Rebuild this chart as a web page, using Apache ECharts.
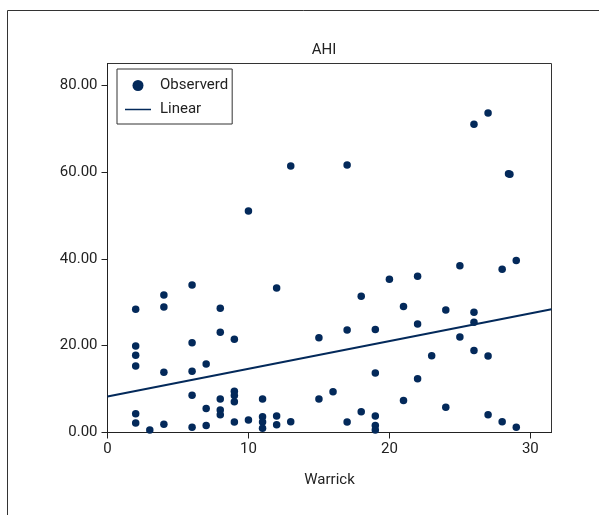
<!DOCTYPE html>
<html>
<head>
<meta charset="utf-8">
<script src="https://cdn.jsdelivr.net/npm/echarts@6/dist/echarts.min.js"></script>
<style>
html,body{margin:0;padding:0;background:#fff;}
#c{width:599px;height:515px;}
</style>
</head>
<body>
<div id="c"></div>
<script>
const titleText = 'AHI';
const xAxisName = 'Warrick';
const xTicks = [0, 10, 20, 30];
const yTicks = [0, 20, 40, 60, 80];
const observedX = [
  2, 2, 2, 2, 2, 2, 3,
  4, 4, 4, 4,
  6, 6, 6, 6, 6,
  7, 7, 7,
  8, 8, 8, 8, 8,
  9, 9, 9, 9, 9,
  10, 10,
  11, 11, 11, 11,
  12, 12, 12,
  13, 13,
  15, 15,
  16, 17, 17, 17,
  18, 18,
  19, 19, 19, 19, 19,
  20, 21, 21,
  22, 22, 22,
  23, 24, 24,
  25, 25,
  26, 26, 26, 26,
  27, 27, 27,
  28, 28, 28.45, 28.55,
  29, 29
];
const observedY = [
  28.4, 19.9, 17.8, 15.3, 4.3, 2.2, 0.6,
  31.7, 28.9, 13.9, 1.9,
  34.0, 20.7, 14.1, 8.6, 1.2,
  15.8, 5.5, 1.6,
  28.6, 23.1, 7.7, 5.2, 4.1,
  21.5, 9.5, 8.5, 7.1, 2.4,
  2.9, 51.0,
  7.7, 3.6, 2.4, 1.0,
  3.8, 1.8, 33.3,
  2.5, 61.4,
  21.8, 7.7,
  9.4, 61.6, 23.6, 2.4,
  31.4, 4.8,
  23.7, 13.7, 3.8, 1.6, 0.6,
  35.3, 29.0, 7.4,
  36.0, 25.0, 12.4,
  17.7, 28.2, 5.8,
  38.4, 22.0,
  71.0, 27.7, 25.4, 18.9,
  73.6, 17.6, 4.1,
  2.5, 37.6, 59.6, 59.5,
  39.6, 1.2
];
const linearX = [0, 31.5];
const linearY = [8.3, 28.4];

const navy = '#03295a';
const textColor = '#222';
const font = 'Roboto, "Noto Sans", sans-serif';

const scatterData = observedX.map((x, i) => [x, observedY[i]]);
const lineData = linearX.map((x, i) => [x, linearY[i]]);

const chart = echarts.init(document.getElementById('c'), null, {renderer: 'canvas'});
chart.setOption({
  animation: false,
  backgroundColor: '#fff',
  textStyle: {fontFamily: font},
  graphic: [{
    type: 'polyline',
    shape: {points: [[7.5, 515], [7.5, 10.5], [599, 10.5]]},
    style: {stroke: '#333', lineWidth: 1, fill: null},
    silent: true
  }],
  title: {
    text: titleText,
    left: 319,
    textAlign: 'center',
    top: 38,
    textStyle: {fontFamily: font, fontSize: 15, fontWeight: 'normal', color: textColor}
  },
  legend: {
    orient: 'vertical',
    left: 117,
    top: 69,
    padding: [9, 4, 7, 8],
    borderColor: '#333',
    borderWidth: 1,
    itemGap: 9,
    itemWidth: 26,
    itemHeight: 11,
    textStyle: {fontFamily: font, fontSize: 15, color: textColor, padding: [0, 0, 0, 4]},
    data: [
      {name: 'Observerd', icon: 'circle'},
      {name: 'Linear', icon: 'path://M0,0 H26 V1.5 H0 Z'}
    ]
  },
  grid: {
    left: 107.5,
    top: 63.5,
    right: 47.5,
    bottom: 82.5,
    show: true,
    borderColor: '#333',
    borderWidth: 1,
    containLabel: false
  },
  xAxis: {
    type: 'value',
    min: 0,
    max: 31.5,
    name: xAxisName,
    nameLocation: 'middle',
    nameGap: 40,
    nameTextStyle: {fontFamily: font, fontSize: 15, color: textColor},
    splitLine: {show: false},
    axisLine: {show: true, onZero: false, lineStyle: {color: '#222', width: 1}},
    axisTick: {show: true, length: 6, customValues: xTicks, lineStyle: {color: '#222'}},
    axisLabel: {customValues: xTicks, fontFamily: font, fontSize: 15, color: textColor, margin: 9}
  },
  yAxis: {
    type: 'value',
    min: 0,
    max: 85,
    splitLine: {show: false},
    axisLine: {show: true, onZero: false, lineStyle: {color: '#222', width: 1}},
    axisTick: {show: true, length: 6, customValues: yTicks, lineStyle: {color: '#222'}},
    axisLabel: {
      customValues: yTicks,
      fontFamily: font, fontSize: 15, color: textColor, margin: 10,
      formatter: v => v.toFixed(2)
    }
  },
  series: [
    {
      name: 'Observerd',
      type: 'scatter',
      symbol: 'circle',
      symbolSize: 7.5,
      itemStyle: {color: navy, opacity: 1},
      data: scatterData,
      z: 3
    },
    {
      name: 'Linear',
      type: 'line',
      symbol: 'none',
      showSymbol: false,
      lineStyle: {color: navy, width: 2},
      itemStyle: {color: navy},
      data: lineData,
      z: 2
    }
  ]
});
</script>
</body>
</html>
